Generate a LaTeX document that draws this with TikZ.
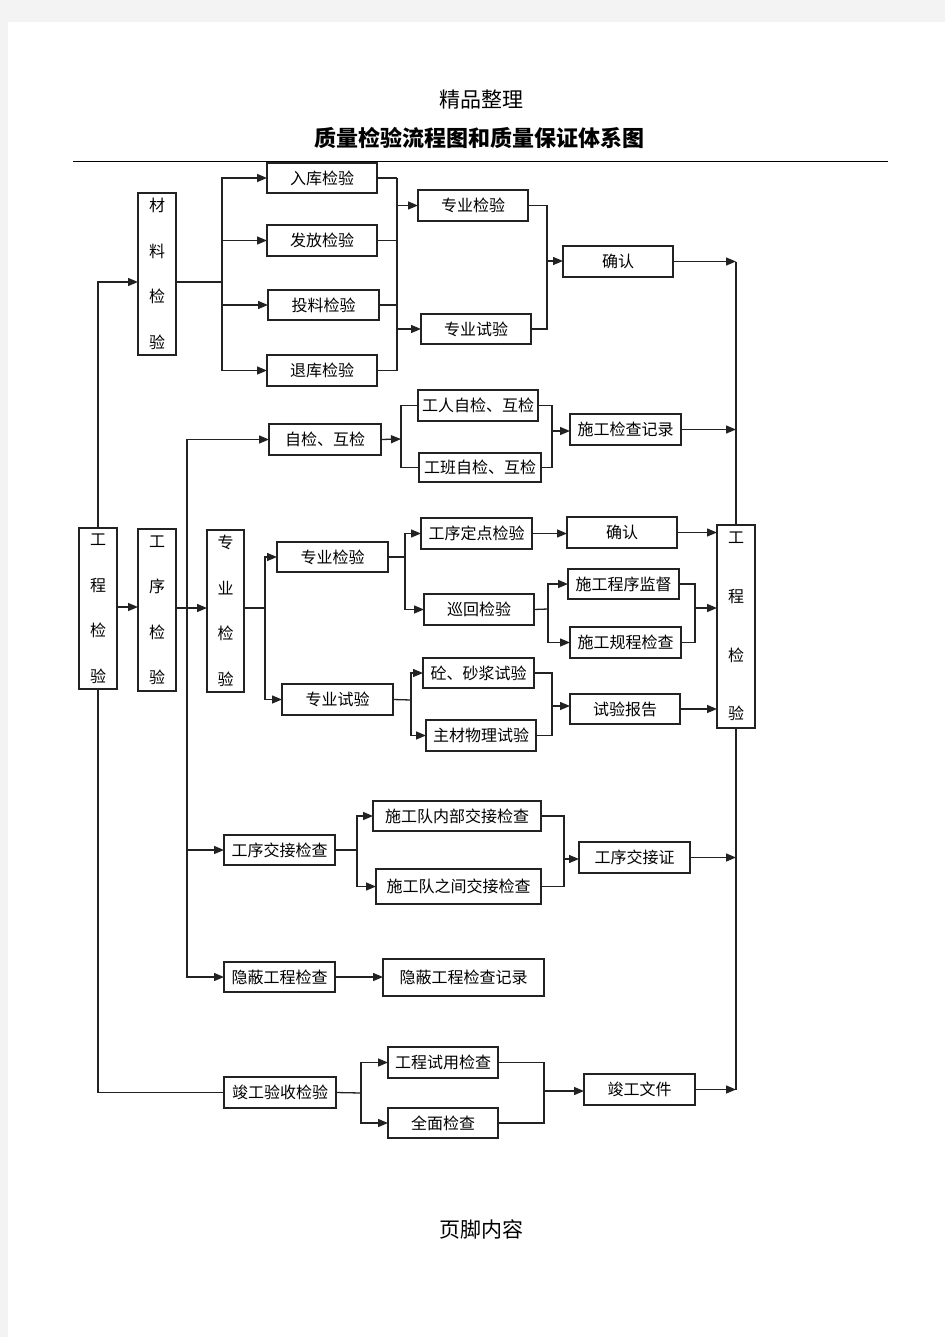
\documentclass[tikz,border=0pt]{standalone}
\usepackage{fontspec}
\newfontfamily\cjk{Noto Sans CJK SC}
\usetikzlibrary{arrows.meta,calc}
\definecolor{pagegray}{HTML}{F3F3F3}
\definecolor{ln}{HTML}{222222}
\newcommand\hb[6]{\node[hbox, minimum width={(#4-#2)*0.5pt}, minimum height={(#5-#3)*0.5pt}] (#1) at ({(#2+#4)/2},{(#3+#5)/2}) {#6};}
\newcommand\vb[7]{\node[hbox, align=center, font=\cjk\fontsize{8}{#7}\selectfont, minimum width={(#4-#2)*0.5pt}, minimum height={(#5-#3)*0.5pt}] (#1) at ({(#2+#4)/2},{(#3+#5)/2}) {#6};}
\begin{document}
\begin{tikzpicture}[x=0.5pt,y=-0.5pt,
  hbox/.style={draw=ln, line width=0.65pt, inner sep=0pt, outer sep=0pt, fill=white, font=\cjk\fontsize{8}{9.6}\selectfont},
  ln/.style={draw=ln, line width=0.65pt},
  arr/.style={ln, -{Triangle[length=5pt,width=4pt]}}]
\useasboundingbox (0,0) rectangle (945,1337);
\fill[pagegray] (0,0) rectangle (945,1337);
\fill[white] (8,22) rectangle (945,1337);
% header
\node[font=\cjk\fontsize{10.5}{12}\selectfont] (hd) at (481,100) {精品整理};
\node[font=\cjk\bfseries\fontsize{11}{13}\selectfont] (tt) at (479,138) {质量检验流程图和质量保证体系图};
\coordinate (hl1) at (73,161.5);
\coordinate (hl2) at (888,161.5);
\draw[line width=0.6pt] (hl1) -- (hl2);
\node[font=\cjk\fontsize{10.5}{12}\selectfont] (ft) at (481,1229) {页脚内容};
% vertical boxes
\vb{cl}{138}{193}{176}{355}{材\\料\\检\\验}{22.75}
\vb{gcL}{79}{528}{117}{689}{工\\程\\检\\验}{22.75}
\vb{gx}{138}{529}{176}{691}{工\\序\\检\\验}{22.75}
\vb{zyv}{207}{530}{244}{692}{专\\业\\检\\验}{22.75}
\vb{gcR}{717}{525}{755}{728}{工\\程\\检\\验}{29.3}
% horizontal boxes
\hb{rk}{267}{163}{377}{193}{入库检验}
\hb{ff}{267}{225}{377}{256}{发放检验}
\hb{tl}{268}{290}{379}{320}{投料检验}
\hb{tk}{267}{355}{377}{386}{退库检验}
\hb{zj1}{418}{190}{528}{221}{专业检验}
\hb{zs1}{421}{314}{531}{344}{专业试验}
\hb{qr1}{563}{246}{673}{277}{确认}
\hb{zh}{269}{424}{381}{455}{自检、互检}
\hb{gr}{418}{390}{538}{421}{工人自检、互检}
\hb{gb}{419}{453}{541}{482}{工班自检、互检}
\hb{sj}{570}{414}{681}{445}{施工检查记录}
\hb{zj2}{277}{542}{388}{572}{专业检验}
\hb{zs2}{282}{684}{393}{715}{专业试验}
\hb{dd}{421}{518}{532}{549}{工序定点检验}
\hb{qr2}{567}{517}{677}{548}{确认}
\hb{xh}{424}{594}{534}{625}{巡回检验}
\hb{jd}{568}{569}{679}{599}{施工程序监督}
\hb{gc}{570}{627}{681}{658}{施工规程检查}
\hb{ts}{423}{658}{534}{688}{砼、砂浆试验}
\hb{zc}{426}{720}{536}{751}{主材物理试验}
\hb{bg}{570}{694}{680}{724}{试验报告}
\hb{jj}{224}{835}{335}{865}{工序交接检查}
\hb{nb}{373}{801}{541}{831}{施工队内部交接检查}
\hb{zjj}{376}{869}{541}{904}{施工队之间交接检查}
\hb{jjz}{579}{842}{690}{873}{工序交接证}
\hb{yb}{224}{962}{335}{992}{隐蔽工程检查}
\hb{ybj}{383}{959}{544}{996}{隐蔽工程检查记录}
\hb{jg}{224}{1077}{336}{1108}{竣工验收检验}
\hb{sy}{388}{1047}{498}{1078}{工程试用检查}
\hb{qm}{388}{1108}{498}{1138}{全面检查}
\hb{jgw}{584}{1074}{695}{1105}{竣工文件}
% junction coordinates
\coordinate (R) at (736,0);
\coordinate (m1) at (222,282);
\coordinate (b1) at (397,0);
\coordinate (b2) at (547,261);
\coordinate (c187) at (187,608);
\coordinate (c401) at (401,439);
\coordinate (k1) at (552,431);
\coordinate (c265) at (265,608);
\coordinate (c405) at (405,557);
\coordinate (c411) at (411,700);
\coordinate (c548) at (548,609);
\coordinate (c695) at (695,608);
\coordinate (c552) at (552,706);
\coordinate (c357) at (357,850);
\coordinate (c564) at (564,859);
\coordinate (c361) at (361,1093);
\coordinate (c544) at (544,1091);
% material inspection
\draw[arr] (gcL.north) |- (cl.west |- m1);
\draw[ln] (cl.east |- m1) -- (m1);
\foreach \n in {rk,ff,tl,tk} \draw[arr] (m1) |- (\n.west);
\foreach \n in {rk,ff,tl,tk} \draw[ln] (\n.east) -- (\n.east -| b1);
\draw[ln] (rk.east -| b1) -- (tk.east -| b1);
\draw[arr] (zj1.west -| b1) -- (zj1.west);
\draw[arr] (zs1.west -| b1) -- (zs1.west);
\draw[ln] (zj1.east) -| (b2) |- (zs1.east);
\draw[arr] (b2) -- (qr1.west |- b2);
\draw[arr] (qr1.east) -- (qr1.east -| R);
\draw[ln] (qr1.east -| R) -- (gcR.north);
\draw[ln] (gcR.south) -- (jgw.east -| R);
% process inspection
\draw[arr] (gcL.east |- 0,607) -- (gx.west |- 0,607);
\draw[arr] (gx.east |- c187) -- (zyv.west |- c187);
\draw[arr] (c187) |- (zh.west);
\draw[arr] (c187) |- (jj.west);
\draw[arr] (c187) |- (yb.west);
\draw[arr] (zh.east) -- (c401);
\draw[ln] (gr.west) -| (c401) |- (gb.west);
\draw[ln] (gr.east) -| (k1) |- (gb.east);
\draw[arr] (k1) -- (sj.west |- k1);
\draw[arr] (sj.east) -- (sj.east -| R);
% specialist inspection
\draw[ln] (zyv.east |- c265) -- (c265);
\draw[arr] (c265) |- (zj2.west);
\draw[arr] (c265) |- (zs2.west);
\draw[ln] (zj2.east) -- (c405);
\draw[arr] (c405) |- (dd.west);
\draw[arr] (c405) |- (xh.west);
\draw[ln] (zs2.east) -- (c411);
\draw[arr] (c411) |- (ts.west);
\draw[arr] (c411) |- (zc.west);
\draw[arr] (dd.east) -- (qr2.west |- dd.east);
\draw[arr] (qr2.east) -- (gcR.west |- qr2.east);
\draw[ln] (xh.east) -- (c548);
\draw[arr] (c548) |- (jd.west);
\draw[arr] (c548) |- (gc.west);
\draw[ln] (jd.east) -| (c695) |- (gc.east);
\draw[arr] (c695) -- (gcR.west |- c695);
\draw[ln] (ts.east) -| (c552) |- (zc.east);
\draw[arr] (c552) -- (bg.west |- c552);
\draw[arr] (bg.east) -- (gcR.west |- bg.east);
% handover
\draw[ln] (jj.east) -- (c357);
\draw[arr] (c357) |- (nb.west);
\draw[arr] (c357) |- (zjj.west);
\draw[ln] (nb.east) -| (c564) |- (zjj.east);
\draw[arr] (c564) -- (jjz.west |- c564);
\draw[arr] (jjz.east) -- (jjz.east -| R);
\draw[arr] (yb.east) -- (ybj.west |- yb.east);
% completion
\draw[ln] (gcL.south) |- (jg.west);
\draw[ln] (jg.east) -- (c361);
\draw[arr] (c361) |- (sy.west);
\draw[arr] (c361) |- (qm.west);
\draw[ln] (sy.east) -| (c544) |- (qm.east);
\draw[arr] (c544) -- (jgw.west |- c544);
\draw[arr] (jgw.east) -- (jgw.east -| R);
\end{tikzpicture}
\end{document}
